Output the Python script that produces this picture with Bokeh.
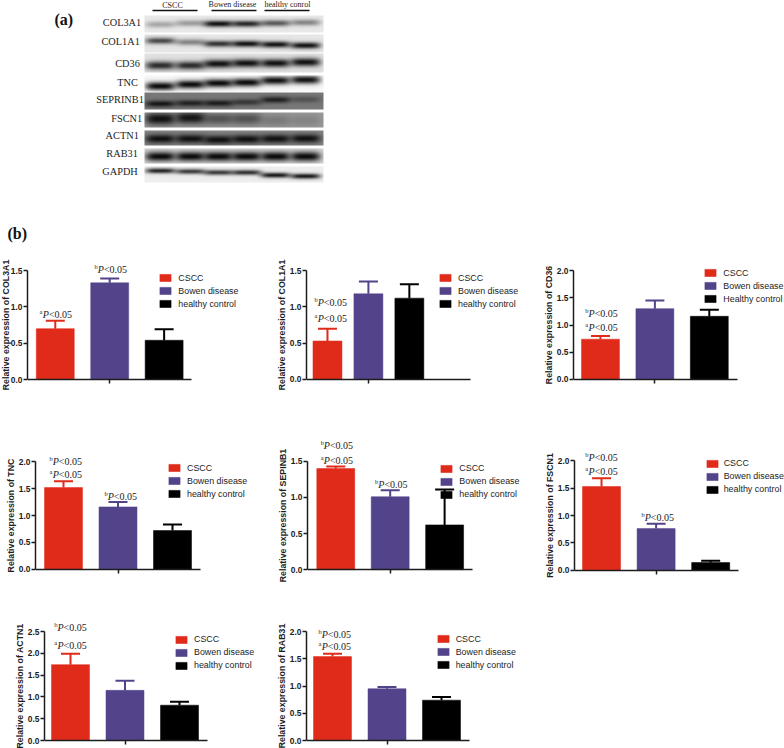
import numpy as np
from bokeh.plotting import figure
from bokeh.layouts import column, row
from bokeh.models import (ColumnDataSource, FixedTicker, LinearAxis, Legend, LegendItem,
                          Range1d, Whisker, TeeHead, LinearColorMapper, NumeralTickFormatter)
from bokeh.palettes import gray
from bokeh.core.properties import value
from bokeh.embed import file_html
from bokeh.resources import INLINE

# ---- data -----------------------------------------------------------------
blot_genes = ["COL3A1", "COL1A1", "CD36", "TNC", "SEPRINB1", "FSCN1", "ACTN1", "RAB31", "GAPDH"]
blot_groups = ["CSCC", "Bowen disease", "healthy conrol"]
blot_background = [0.91, 0.90, 0.88, 0.97, 0.47, 0.60, 0.52, 0.84, 0.93]
blot_darkness = [
    [0.30, 0.35, 0.98, 0.88, 0.65, 0.45],
    [0.72, 0.45, 0.82, 0.97, 0.97, 0.97],
    [0.85, 0.85, 0.97, 0.97, 0.97, 0.97],
    [1.00, 1.00, 1.00, 1.00, 0.97, 0.97],
    [0.90, 0.80, 0.85, 0.60, 0.80, 0.35],
    [0.95, 0.92, 0.50, 0.50, 0.22, 0.15],
    [0.95, 0.95, 0.95, 0.95, 0.95, 0.95],
    [1.00, 1.00, 1.00, 1.00, 1.00, 1.00],
    [0.90, 0.80, 0.80, 0.85, 0.95, 0.95],
]

series = ["CSCC", "Bowen disease", "healthy control"]
colors = ["#E02A1A", "#53438A", "#000000"]

panels = [
    dict(gene="COL3A1", ticks=[0, 0.5, 1.0, 1.5], vals=[0.70, 1.33, 0.54], errs=[0.81, 1.39, 0.69],
         ann=[(0.01, 0.89, "a"), (1.02, 1.51, "b")]),
    dict(gene="COL1A1", ticks=[0, 0.5, 1.0, 1.5], vals=[0.53, 1.18, 1.12], errs=[0.70, 1.35, 1.31],
         ann=[(0.08, 1.056, "b"), (0.08, 0.835, "a")], title="COL1A1"),
    dict(gene="CD36", ticks=[0, 0.5, 1.0, 1.5, 2.0], vals=[0.74, 1.30, 1.16], errs=[0.80, 1.45, 1.28],
         ann=[(0.02, 1.21, "b"), (0.02, 0.95, "a")], third="Healthy control"),
    dict(gene="TNC", ticks=[0, 0.5, 1.0, 1.5, 2.0], vals=[1.52, 1.16, 0.72], errs=[1.64, 1.25, 0.83],
         ann=[(0.04, 2.01, "b"), (0.04, 1.77, "a"), (1.05, 1.35, "b")]),
    dict(gene="SEPINB1", ticks=[0, 0.5, 1.0, 1.5], vals=[1.40, 1.01, 0.62], errs=[1.43, 1.10, 1.11],
         ann=[(0.02, 1.72, "b"), (0.02, 1.51, "a"), (1.02, 1.18, "b")]),
    dict(gene="FSCN1", ticks=[0, 0.5, 1.0, 1.5, 2.0], vals=[1.53, 0.76, 0.14], errs=[1.68, 0.85, 0.17],
         ann=[(0.0, 2.07, "b"), (0.0, 1.80, "a"), (1.03, 0.97, "b")]),
    dict(gene="ACTN1", ticks=[0, 0.5, 1.0, 1.5, 2.0, 2.5], vals=[1.74, 1.15, 0.81], errs=[1.99, 1.37, 0.89],
         ann=[(0.0, 2.60, "b"), (0.0, 2.19, "a")]),
    dict(gene="RAB31", ticks=[0, 0.5, 1.0, 1.5, 2.0], vals=[1.54, 0.95, 0.74], errs=[1.59, 0.98, 0.80],
         ann=[(0.04, 1.94, "b"), (0.04, 1.72, "a")]),
]

# ---- layout geometry (page pixels) ----------------------------------------
geo = {
    "COL3A1": dict(ax=26.7, top=270, y0=379, c0=54.5, s=54.5, end=191, lx=158, ly=273, bleed=8, stand=-3),
    "COL1A1": dict(ax=305.7, top=270, y0=378.7, c0=326.7, s=41, w=29, end=470, lx=437.7, ly=273),
    "CD36": dict(ax=572.7, top=270, y0=378.7, c0=599.7, s=54.5, end=736.7, lx=703, ly=268),
    "TNC": dict(ax=35, top=459.3, y0=568.3, c0=63, s=54.5, end=200, lx=167, ly=463),
    "SEPINB1": dict(ax=306.7, top=460, y0=569, c0=335, s=54.5, end=471.7, lx=439, ly=463.7),
    "FSCN1": dict(ax=574.3, top=460.7, y0=569.7, c0=601.3, s=54.5, end=738.3, lx=705, ly=458.7, ls=5),
    "ACTN1": dict(ax=44, top=631, y0=740, c0=70, s=54.5, end=206.7, lx=174, ly=634.7),
    "RAB31": dict(ax=306, top=631, y0=740, c0=332, s=54.5, end=469, lx=435.7, ly=634),
}
col_edges = [(0, 270), (270, 530), (530, 784)]
row_edges = [(245, 410), (410, 590), (590, 748)]

SANS = "Liberation Sans"
SERIF = "Liberation Serif"
INK = "#1c1c1c"


def top_panel():
    H = row_edges[0][0]
    p = figure(width=784, height=H, x_range=Range1d(0, 784), y_range=Range1d(0, H),
               output_backend="svg", toolbar_location=None, x_axis_type=None, y_axis_type=None,
               min_border=0, outline_line_color=None)
    p.grid.visible = False
    rows_px = [(15, 32), (34, 52), (53, 72), (75, 91), (92, 109), (112, 127), (130, 145), (148, 163), (166, 182)]
    band_y = [[24, 22.7, 23.3, 23.3, 22.7, 22], [40.3, 41.7, 43.3, 43.3, 44, 45], [65, 65, 63.3, 62.7, 62.7, 61.7],
              [85.7, 84, 82.7, 82, 80, 79.3], [103.3, 102.7, 102.7, 101.7, 99.3, 99], [118.3, 117.3, 118.3, 118.3, 120, 120],
              [138.3, 138.3, 139.3, 138.7, 138.3, 138], [156, 156, 156, 156, 156, 156], [170.3, 171, 172, 172, 174.7, 175.7]]
    band_sig = [3.2, 3.2, 4.2, 4.2, 3.2, 6.0, 4.4, 4.8, 2.6]
    lanes = [160, 190, 218, 246, 275, 305]
    cmap = LinearColorMapper(palette=gray(256), low=0, high=1)
    for bg, dark, by, sig, (y1, y2) in zip(blot_background, blot_darkness, band_y, band_sig, rows_px):
        xs = np.arange(144, 323) + 0.5
        ys = np.arange(y2, y1, -1) - 0.5
        X, Y = np.meshgrid(xs, ys)
        img = np.full(X.shape, bg, dtype=float)
        for xc, yc, d in zip(lanes, by, dark):
            prof = np.exp(-((X - xc) / 15.0) ** 4) * np.exp(-((Y - yc) / sig) ** 2)
            img = img - (img - 0.04) * d * prof
        p.image(image=[img], x=144, y=H - y2, dw=179, dh=y2 - y1, color_mapper=cmap)
    label_r = [140.7, 139.3, 139.3, 137.3, 143.3, 141.7, 138.3, 137.3, 137.3]
    label_y = [22, 41, 63, 82, 99, 118, 135, 153, 171]
    p.text(x=label_r, y=[H - v for v in label_y], text=blot_genes, text_font=value(SERIF),
           text_font_size="10.3px", text_align="right", text_baseline="middle", text_color=INK)
    p.text(x=[172, 232, 287], y=[H - 5, H - 4, H - 4], text=blot_groups, text_font=value(SERIF),
           text_font_size="8px", text_align="center", text_baseline="middle", text_color=INK)
    p.segment(x0=[152, 211, 264], x1=[197, 256, 309], y0=[H - 10] * 3, y1=[H - 10] * 3,
              line_color="#111111", line_width=1.4)
    p.text(x=[54, 7], y=[H - 19, H - 233], text=["(a)", "(b)"], text_font=value(SERIF),
           text_font_size="16px", text_font_style="bold", text_align="left", text_baseline="middle",
           text_color="#111111")
    return p


def bar_panel(cfg, col, rw):
    g = geo[cfg["gene"]]
    x_l, x_r = col_edges[col]
    bleed = g.get("bleed", 0)
    x_l -= bleed
    F0, F1 = row_edges[rw]
    ymax = cfg["ticks"][-1]
    c = (g["top"] + g["y0"]) / 2
    half = min(c - F0, F1 - c)
    ft, fb = c - half, c + half
    k = ymax / (g["y0"] - g["top"])
    s, c0 = g["s"], g["c0"]
    bw = g.get("w", 38) / s
    x_start, x_end = (g["ax"] - c0) / s, (x_r - c0) / s
    p = figure(width=x_r - x_l, height=F1 - F0,
               x_range=Range1d(x_start, x_end),
               y_range=Range1d(-(fb - g["y0"]) * k, (g["y0"] - ft) * k),
               output_backend="svg", toolbar_location=None, x_axis_type=None,
               min_border_left=int(round(g["ax"] - x_l)), min_border_right=0,
               min_border_top=int(round(ft - F0)), min_border_bottom=int(round(F1 - fb)),
               outline_line_color=None, margin=(0, 0, 0, -bleed))
    p.grid.visible = False
    renderers = []
    for i, (v, e, col_) in enumerate(zip(cfg["vals"], cfg["errs"], colors)):
        r = p.vbar(x=[i], top=[v], bottom=0, width=bw, fill_color=col_, line_color=col_, line_width=0.5)
        renderers.append(r)
        src = ColumnDataSource(dict(x=[i], lo=[v], hi=[e]))
        w = Whisker(source=src, base="x", lower="lo", upper="hi", dimension="height",
                    line_color=col_, line_width=2,
                    upper_head=TeeHead(size=19, line_color=col_, line_width=2), lower_head=None)
        p.add_layout(w)
    # axes
    ya = p.yaxis[0]
    ya.ticker = FixedTicker(ticks=cfg["ticks"])
    ya.formatter = NumeralTickFormatter(format="0.0")
    ya.bounds = (0, ymax)
    ya.axis_label = "Relative expression of " + cfg.get("title", cfg["gene"])
    ya.axis_label_text_font = SANS
    ya.axis_label_text_font_size = "8.8px"
    ya.axis_label_text_font_style = "bold"
    ya.axis_label_text_color = INK
    ya.axis_label_standoff = g.get("stand", 0)
    ya.major_label_text_font = SANS
    ya.major_label_text_font_size = "8.4px"
    ya.major_label_text_font_style = "bold"
    ya.major_label_text_color = INK
    ya.major_label_standoff = 1
    ya.major_tick_in = 0
    ya.major_tick_out = 4
    ya.minor_tick_line_color = None
    ya.axis_line_width = 1.5
    ya.major_tick_line_width = 1.5
    ya.axis_line_color = INK
    ya.major_tick_line_color = INK
    xa = LinearAxis(ticker=FixedTicker(ticks=[1]), fixed_location=0,
                    bounds=(x_start, (g["end"] - c0) / s),
                    major_label_text_font_size="0px", major_label_overrides={1: ""},
                    major_label_standoff=0, major_tick_in=4, major_tick_out=0,
                    minor_tick_line_color=None, axis_line_width=1.5, major_tick_line_width=1.5,
                    axis_line_color=INK, major_tick_line_color=INK)
    p.add_layout(xa, "above")
    # significance labels
    for ax_, ay_, sup in cfg["ann"]:
        for txt, dx, dy, size, style in [(sup, -16.2, -3, "6.5px", "normal"), ("P", -13, 0, "10px", "italic"),
                                         ("<0.05", -6.9, 0, "10px", "normal")]:
            p.text(x=[ax_], y=[ay_], text=[txt], x_offset=dx, y_offset=dy, text_font=value(SERIF),
                   text_font_size=size, text_font_style=style, text_align="left",
                   text_baseline="middle", text_color=INK, level="overlay")
    # legend
    names = list(series)
    if "third" in cfg:
        names[2] = cfg["third"]
    lg = Legend(items=[LegendItem(label=n, renderers=[r]) for n, r in zip(names, renderers)],
                location=(g["lx"] - g["ax"], fb - (g["ly"] - 0.5 + 36)),
                glyph_width=14, glyph_height=9, label_height=9, label_width=10, spacing=3, padding=0, margin=0,
                label_standoff=g.get("ls", 6), border_line_color=None, background_fill_alpha=0,
                label_text_font=SANS, label_text_font_size="8.9px", label_text_color=INK,
                label_text_baseline="middle")
    p.add_layout(lg, "center")
    return p


figs = [bar_panel(cfg, i % 3, i // 3) for i, cfg in enumerate(panels)]
root = column(top_panel(),
              row(*figs[0:3], spacing=0),
              row(*figs[3:6], spacing=0),
              row(*figs[6:8], spacing=0),
              spacing=0)

open("out.html", "w").write(file_html(root, INLINE))
